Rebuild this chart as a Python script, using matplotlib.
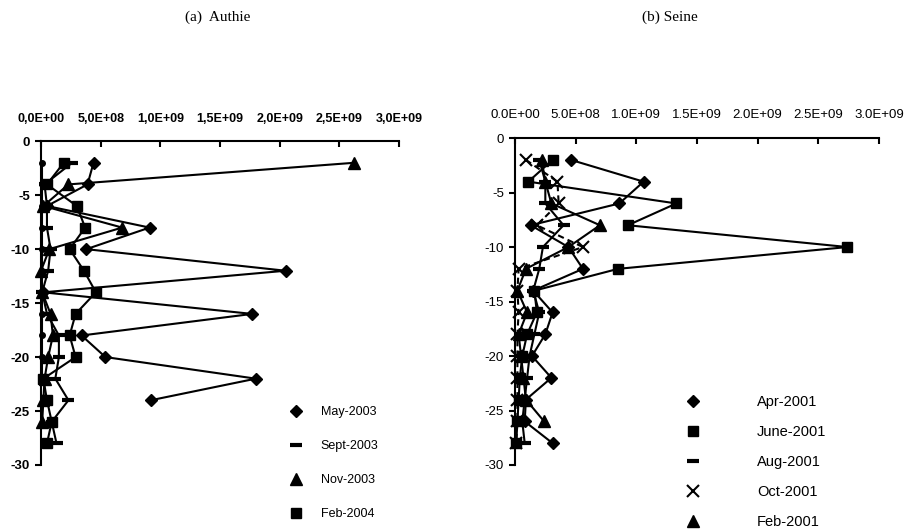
import matplotlib
matplotlib.use("Agg")
import matplotlib.pyplot as plt
from matplotlib.ticker import FuncFormatter, MultipleLocator

plt.rcParams['font.family'] = ['Liberation Sans', 'DejaVu Sans']
plt.rcParams['axes.unicode_minus'] = False

# depth below surface (m)
depth = [-2, -4, -6, -8, -10, -12, -14, -16, -18, -20, -22, -24, -26, -28]

# Authie profiles
authie_may = [4.4e8, 3.9e8, 0.5e8, 9.1e8, 3.8e8, 20.5e8, 0.2e8, 17.7e8, 3.4e8, 5.4e8, 18.0e8, 9.2e8]
authie_sept = [2.6e8, 0.3e8, 0.5e8, 0.5e8, 0.8e8, 0.6e8, 0.1e8, 0.5e8, 1.5e8, 1.5e8, 1.2e8, 2.3e8, 0.9e8, 1.3e8]
authie_nov = [26.2e8, 2.3e8, 0.2e8, 6.8e8, 0.7e8, 0.0, 0.1e8, 0.8e8, 1.0e8, 0.6e8, 0.3e8, 0.2e8, 0.1e8]
authie_feb = [1.9e8, 0.5e8, 3.0e8, 3.7e8, 2.4e8, 3.6e8, 4.6e8, 2.9e8, 2.4e8, 2.9e8, 0.2e8, 0.5e8, 0.9e8, 0.5e8]
authie_dots = [0.1e8, 0.1e8, 0.1e8, 0.1e8, 0.1e8, 0.1e8, 0.1e8, 0.1e8, 0.1e8, 0.1e8, 0.1e8]

# Seine profiles
seine_apr = [4.6e8, 10.6e8, 8.6e8, 1.3e8, 4.4e8, 5.6e8, 1.5e8, 3.1e8, 2.5e8, 1.4e8, 3.0e8, 0.9e8, 0.8e8, 3.1e8]
seine_june = [3.1e8, 1.1e8, 13.3e8, 9.3e8, 27.4e8, 8.5e8, 1.6e8, 1.8e8, 1.0e8, 0.6e8, 0.4e8, 0.3e8, 0.2e8, 0.1e8]
seine_aug = [2.0e8, 2.5e8, 2.5e8, 4.0e8, 2.3e8, 2.0e8, 1.5e8, 2.0e8, 1.6e8, 1.2e8, 1.0e8, 0.8e8, 0.6e8, 0.8e8]
seine_oct = [0.9e8, 3.5e8, 3.6e8, 1.8e8, 5.6e8, 0.3e8, 0.2e8, 0.3e8, 0.2e8, 0.2e8, 0.2e8, 0.2e8, 0.2e8, 0.1e8]
seine_feb = [2.2e8, 2.5e8, 3.0e8, 7.0e8, 4.4e8, 0.9e8, 0.2e8, 1.0e8, 0.3e8, 0.5e8, 0.7e8, 0.9e8, 2.4e8]

xticks = [0, 5e8, 1e9, 1.5e9, 2e9, 2.5e9, 3e9]


#marker styles for each kind of series
styles = {
	"diamond": dict(marker="D", ms=6),
	"square": dict(marker="s", ms=7),
	"dash": dict(marker="_", ms=9, mew=3),
	"triangle": dict(marker="^", ms=8),
	"cross": dict(marker="x", ms=8, mew=1.5),
	"dot": dict(marker="o", ms=4),
}


def setup_axes(ax, comma, bold, xsize) :
	ax.set_xlim(0, 3e9)
	ax.set_ylim(-30, 0)
	ax.spines["right"].set_visible(False)
	ax.spines["bottom"].set_visible(False)
	for s in ("left", "top") :
		ax.spines[s].set_linewidth(1.5)
	ax.xaxis.tick_top()
	ax.set_xticks(xticks)
	ax.yaxis.set_major_locator(MultipleLocator(5))
	weight = "bold" if bold else "normal"

	def fmt(v, pos) :
		s = "{:.1E}".format(v)
		return s.replace(".", ",") if comma else s
	ax.xaxis.set_major_formatter(FuncFormatter(fmt))
	ax.tick_params(axis="x", direction="in", length=4, width=1.5, pad=12, labelsize=xsize)
	ax.tick_params(axis="y", direction="out", length=4, width=1.5, pad=4, labelsize=9.5)
	for lab in ax.get_xticklabels() + ax.get_yticklabels() :
		lab.set_fontweight(weight)


def draw(ax, values, style, label=None, ls="-") :
	d = depth[:len(values)]
	ax.plot(values, d, color="black", lw=1.5, ls=ls, label=label,
			mfc="black", mec="black", clip_on=False, **styles[style])


fig = plt.figure(figsize=(9.07, 5.29), dpi=100)
ax1 = fig.add_axes([0.0452, 0.121, 0.3947, 0.612])
ax2 = fig.add_axes([0.5678, 0.121, 0.4013, 0.618])

draw(ax1, authie_dots, "dot")
draw(ax1, authie_may, "diamond", "May-2003")
draw(ax1, authie_sept, "dash", "Sept-2003")
draw(ax1, authie_nov, "triangle", "Nov-2003")
draw(ax1, authie_feb, "square", "Feb-2004")
setup_axes(ax1, comma=True, bold=True, xsize=9)

draw(ax2, seine_apr, "diamond", "Apr-2001")
draw(ax2, seine_june, "square", "June-2001")
draw(ax2, seine_aug, "dash", "Aug-2001")
draw(ax2, seine_oct, "cross", "Oct-2001", ls=(0, (3, 2)))
draw(ax2, seine_feb, "triangle", "Feb-2001")
setup_axes(ax2, comma=False, bold=False, xsize=9.5)

#legends only show the markers, lines are left out
# (axes, anchor, font size, label spacing, text pad)
legend_pos = [
	(ax1, (0.319, 0.232), 9, 1.75, 1.5),
	(ax2, (0.756, 0.253), 10.5, 1.1, 3.9),
]
for ax, anchor, size, spacing, textpad in legend_pos :
	handles, labels = ax.get_legend_handles_labels()
	leg = ax.legend(handles, labels, loc="upper left", bbox_to_anchor=anchor,
					bbox_transform=fig.transFigure, frameon=False, fontsize=size,
					borderpad=0, borderaxespad=0,
					labelspacing=spacing, handlelength=1.0, handletextpad=textpad)
	for line in leg.get_lines() :
		line.set_linestyle("None")

fig.text(0.240, 0.968, "(a)  Authie", family="Liberation Serif", fontsize=11, ha="center", va="center")
fig.text(0.739, 0.968, "(b) Seine", family="Liberation Serif", fontsize=11, ha="center", va="center")

plt.savefig("out.png", dpi=100)
